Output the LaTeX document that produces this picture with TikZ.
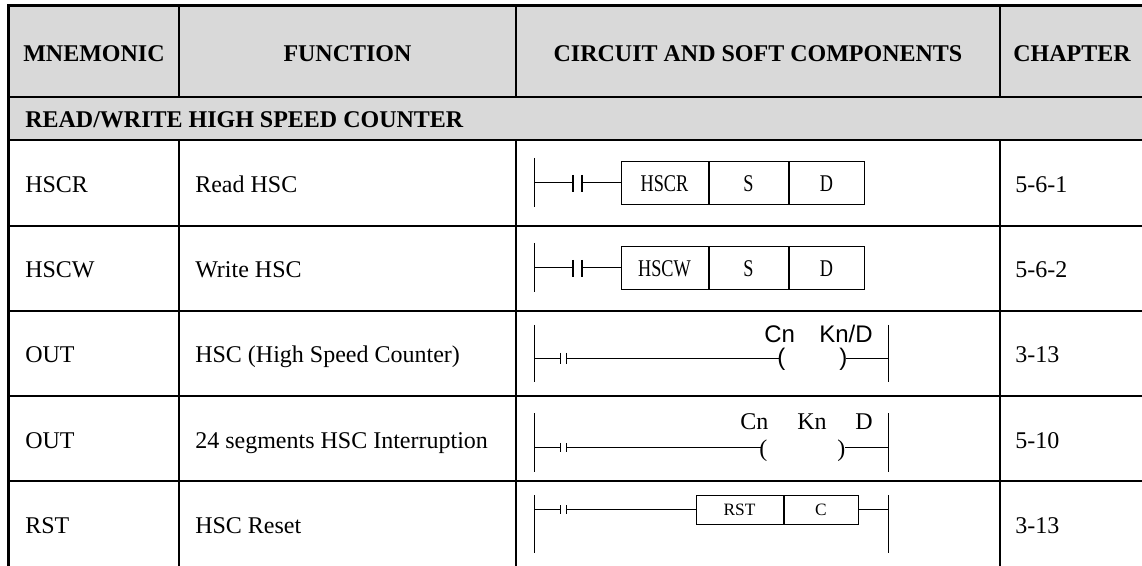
\documentclass[tikz,border=0pt]{standalone}
\usepackage{fontspec}
\setmainfont{Liberation Serif}
\newfontfamily\condf[FakeStretch=0.76]{Liberation Serif}
\newfontfamily\arialf{Liberation Sans}
\definecolor{hdr}{RGB}{217,217,217}
\begin{document}
\begin{tikzpicture}[x=0.75pt,y=-0.75pt,
  grid/.style={line width=1.5pt},
  frame/.style={line width=2.25pt},
  lad/.style={line width=0.75pt},
  bar/.style={line width=1pt},
  hd/.style={font=\bfseries\fontsize{18}{21}\selectfont, inner sep=0pt, anchor=base},
  bd/.style={font=\fontsize{18}{21}\selectfont, inner sep=0pt, anchor=base west},
  cell/.style={draw, line width=0.75pt, inner sep=0pt, minimum height=43*0.75pt, font=\condf\fontsize{18}{21}\selectfont},
  smallcell/.style={draw, line width=0.75pt, inner sep=0pt, minimum height=29*0.75pt, font=\fontsize{13}{15}\selectfont},
  sanslbl/.style={font=\arialf\fontsize{18}{21}\selectfont, inner sep=0pt, anchor=base west},
  seriflbl/.style={font=\fontsize{18}{21}\selectfont, inner sep=0pt, anchor=base west}
]
\useasboundingbox (0,0) rectangle (1142,566);
% header fill
\fill[hdr] (8.5,5.5) rectangle (1142,140);
% grid
\foreach \yy in {97,140,226,311,396,481} \draw[grid] (8.5,\yy) -- (1142,\yy);
\foreach \xx in {179,516,1000} {
  \draw[grid] (\xx,5.5) -- (\xx,97);
  \draw[grid] (\xx,140) -- (\xx,566);
}
\draw[frame] (8.5,566) -- (8.5,5.5) -- (1142,5.5);

% header texts
\node[hd] (h1) at (94,62) {MNEMONIC};
\node[hd] (h2) at (347.5,62) {FUNCTION};
\node[hd] (h3) at (758,62) {CIRCUIT AND SOFT COMPONENTS};
\node[hd] (h4) at (1072,62) {CHAPTER};
\node[hd, anchor=base west] (sec) at (25,128) {READ/WRITE HIGH SPEED COUNTER};

% body texts
\node[bd] (m1) at (25,193) {HSCR};
\node[bd] (f1) at (195,193) {Read HSC};
\node[bd] (c1) at (1015,193) {5-6-1};
\node[bd] (m2) at (25,278) {HSCW};
\node[bd] (f2) at (195,278) {Write HSC};
\node[bd] (c2) at (1015,278) {5-6-2};
\node[bd] (m3) at (25,363) {OUT};
\node[bd] (f3) at (195,363) {HSC (High Speed Counter)};
\node[bd] (c3) at (1015,363) {3-13};
\node[bd] (m4) at (25,448) {OUT};
\node[bd] (f4) at (195,448) {24 segments HSC Interruption};
\node[bd] (c4) at (1015,448) {5-10};
\node[bd] (m5) at (25,533) {RST};
\node[bd] (f5) at (195,533) {HSC Reset};
\node[bd] (c5) at (1015,533) {3-13};

% ---------- row 1 ladder ----------
\coordinate (r1Lt) at (534,158); \coordinate (r1Lb) at (534,207);
\coordinate (r1L) at (534,183);
\coordinate (r1ca) at (573,183); \coordinate (r1cb) at (582,183);
\draw[lad] (r1Lt) -- (r1Lb);
\draw[lad] (r1L) -- (r1ca);
\draw[bar] (573,175) -- (573,192);
\draw[bar] (582,175) -- (582,192);
\node[cell, minimum width=87*0.75pt] (r1a) at (664.5,183.5) {HSCR};
\node[cell, minimum width=79*0.75pt, anchor=west] (r1b) at (r1a.east) {S};
\node[cell, minimum width=75*0.75pt, anchor=west] (r1c) at (r1b.east) {D};
\draw[lad] (r1cb) -- (r1cb -| r1a.west);

% ---------- row 2 ladder ----------
\coordinate (r2Lt) at (534,243); \coordinate (r2Lb) at (534,292);
\coordinate (r2L) at (534,268);
\coordinate (r2ca) at (573,268); \coordinate (r2cb) at (582,268);
\draw[lad] (r2Lt) -- (r2Lb);
\draw[lad] (r2L) -- (r2ca);
\draw[bar] (573,260) -- (573,277);
\draw[bar] (582,260) -- (582,277);
\node[cell, minimum width=87*0.75pt] (r2a) at (664.5,268.5) {HSCW};
\node[cell, minimum width=79*0.75pt, anchor=west] (r2b) at (r2a.east) {S};
\node[cell, minimum width=75*0.75pt, anchor=west] (r2c) at (r2b.east) {D};
\draw[lad] (r2cb) -- (r2cb -| r2a.west);

% ---------- row 3 ladder ----------
\coordinate (r3Lt) at (534,325); \coordinate (r3Lb) at (534,382);
\coordinate (r3Rt) at (888,325); \coordinate (r3Rb) at (888,382);
\coordinate (r3L) at (534,359); \coordinate (r3R) at (888,359);
\coordinate (r3ca) at (560,359); \coordinate (r3cb) at (566,359);
\draw[lad] (r3Lt) -- (r3Lb);
\draw[lad] (r3Rt) -- (r3Rb);
\draw[lad] (r3L) -- (r3ca);
\draw[lad] (560,353) -- (560,364);
\draw[lad] (566,353) -- (566,364);
\node[sanslbl] (r3po) at (777,366) {(};
\node[sanslbl] (r3pc) at (839,366) {)};
\draw[lad] (r3cb) -- (779,359);
\draw[lad] (846,359) -- (r3R);
\node[sanslbl] (r3n1) at (764,343) {Cn};
\node[sanslbl] (r3n2) at (819,343) {Kn/D};

% ---------- row 4 ladder ----------
\coordinate (r4Lt) at (534,413); \coordinate (r4Lb) at (534,472);
\coordinate (r4Rt) at (888,413); \coordinate (r4Rb) at (888,472);
\coordinate (r4L) at (534,447); \coordinate (r4R) at (888,447);
\coordinate (r4ca) at (560,447); \coordinate (r4cb) at (566,447);
\draw[lad] (r4Lt) -- (r4Lb);
\draw[lad] (r4Rt) -- (r4Rb);
\draw[lad] (r4L) -- (r4ca);
\draw[lad] (560,443) -- (560,452);
\draw[lad] (566,443) -- (566,452);
\node[seriflbl] (r4po) at (759,456) {(};
\node[seriflbl] (r4pc) at (837,456) {)};
\draw[lad] (r4cb) -- (761,447);
\draw[lad] (845,447) -- (r4R);
\node[seriflbl] (r4n1) at (740,429) {Cn};
\node[seriflbl] (r4n2) at (797,429) {Kn};
\node[seriflbl] (r4n3) at (855,429) {D};

% ---------- row 5 ladder ----------
\coordinate (r5Lt) at (534,495); \coordinate (r5Lb) at (534,553);
\coordinate (r5Rt) at (888,495); \coordinate (r5Rb) at (888,553);
\coordinate (r5L) at (534,509); \coordinate (r5R) at (888,509);
\coordinate (r5ca) at (560,509); \coordinate (r5cb) at (566,509);
\draw[lad] (r5Lt) -- (r5Lb);
\draw[lad] (r5Rt) -- (r5Rb);
\draw[lad] (r5L) -- (r5ca);
\draw[lad] (560,505) -- (560,514);
\draw[lad] (566,505) -- (566,514);
\node[smallcell, minimum width=87*0.75pt] (r5a) at (739.5,509.5) {RST};
\node[smallcell, minimum width=74*0.75pt, anchor=west] (r5b) at (r5a.east) {C};
\draw[lad] (r5cb) -- (r5cb -| r5a.west);
\draw[lad] (r5b.east |- r5R) -- (r5R);
\end{tikzpicture}
\end{document}
